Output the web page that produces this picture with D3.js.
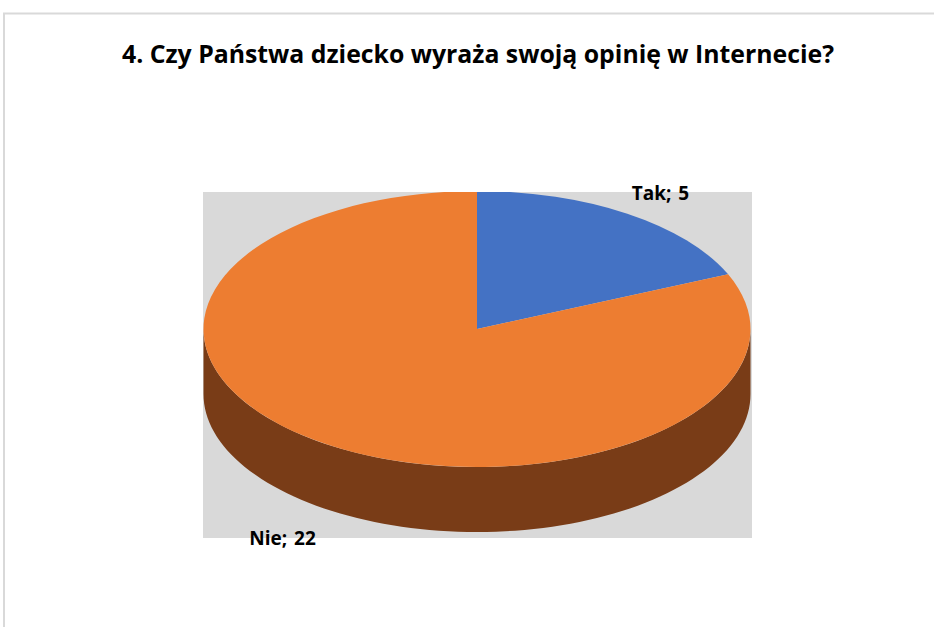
<!DOCTYPE html>
<html>
<head>
<meta charset="utf-8">
<script src="https://cdn.jsdelivr.net/npm/d3@7"></script>
<style>
  html, body { margin: 0; padding: 0; background: #fff; }
  svg { display: block; }
  text { font-family: "Open Sans", sans-serif; font-weight: 700; fill: #000; }
</style>
</head>
<body>
<svg id="chart" width="934" height="627"></svg>
<script>
const categories = ["Tak", "Nie"];
const values = [5, 22];
const colors = ["#4472c4", "#ed7d31"];
const sideColor = "#793c17";
const title = "4. Czy Państwa dziecko wyraża swoją opinię w Internecie?";

const width = 934;
const height = 627;
const cx = 477;
const cy = 329;
const rx = 273.5;
const ry = 138;
const depth = 65;

const svg = d3.select("#chart").attr("viewBox", [0, 0, width, height]);

// chart frame, only top and left are inside the crop
svg.append("path")
  .attr("d", "M4,627V13.5H934")
  .attr("fill", "none")
  .attr("stroke", "#d9d9d9")
  .attr("stroke-width", 2);

svg.append("text")
  .attr("x", 478)
  .attr("y", 63)
  .attr("text-anchor", "middle")
  .attr("font-size", 25)
  .attr("textLength", 712)
  .attr("lengthAdjust", "spacingAndGlyphs")
  .text(title);

// plot area
svg.append("rect")
  .attr("x", 203)
  .attr("y", 192)
  .attr("width", 549)
  .attr("height", 346)
  .attr("fill", "#d9d9d9");

svg.append("clipPath").attr("id", "plot")
  .append("rect")
  .attr("x", 203)
  .attr("y", 192)
  .attr("width", 549)
  .attr("height", 346);

const pie = d3.pie().sort(null).value(d => d);
const arcs = pie(values);
const arc = d3.arc().innerRadius(0).outerRadius(rx);

const chart = svg.append("g").attr("clip-path", "url(#plot)");

// side wall: front half of the rim, swept down by depth
const rim = d3.range(90, 271, 2).map(a => {
  const t = a * Math.PI / 180;
  return [cx + rx * Math.sin(t), cy - ry * Math.cos(t)];
});
chart.append("path")
  .attr("d", d3.line()(rim.concat(rim.slice().reverse().map(p => [p[0], p[1] + depth]))) + "Z")
  .attr("fill", sideColor);

chart.append("g")
  .attr("transform", `translate(${cx},${cy}) scale(1,${ry / rx})`)
  .selectAll("path")
  .data(arcs)
  .join("path")
  .attr("d", arc)
  .attr("fill", (d, i) => colors[i]);

const labelPos = [[660.5, 200], [282.5, 545]];
svg.append("g")
  .selectAll("text")
  .data(categories)
  .join("text")
  .attr("x", (d, i) => labelPos[i][0])
  .attr("y", (d, i) => labelPos[i][1])
  .attr("text-anchor", "middle")
  .attr("font-size", 19)
  .attr("word-spacing", 2)
  .text((d, i) => `${d}; ${values[i]}`);
</script>
</body>
</html>
